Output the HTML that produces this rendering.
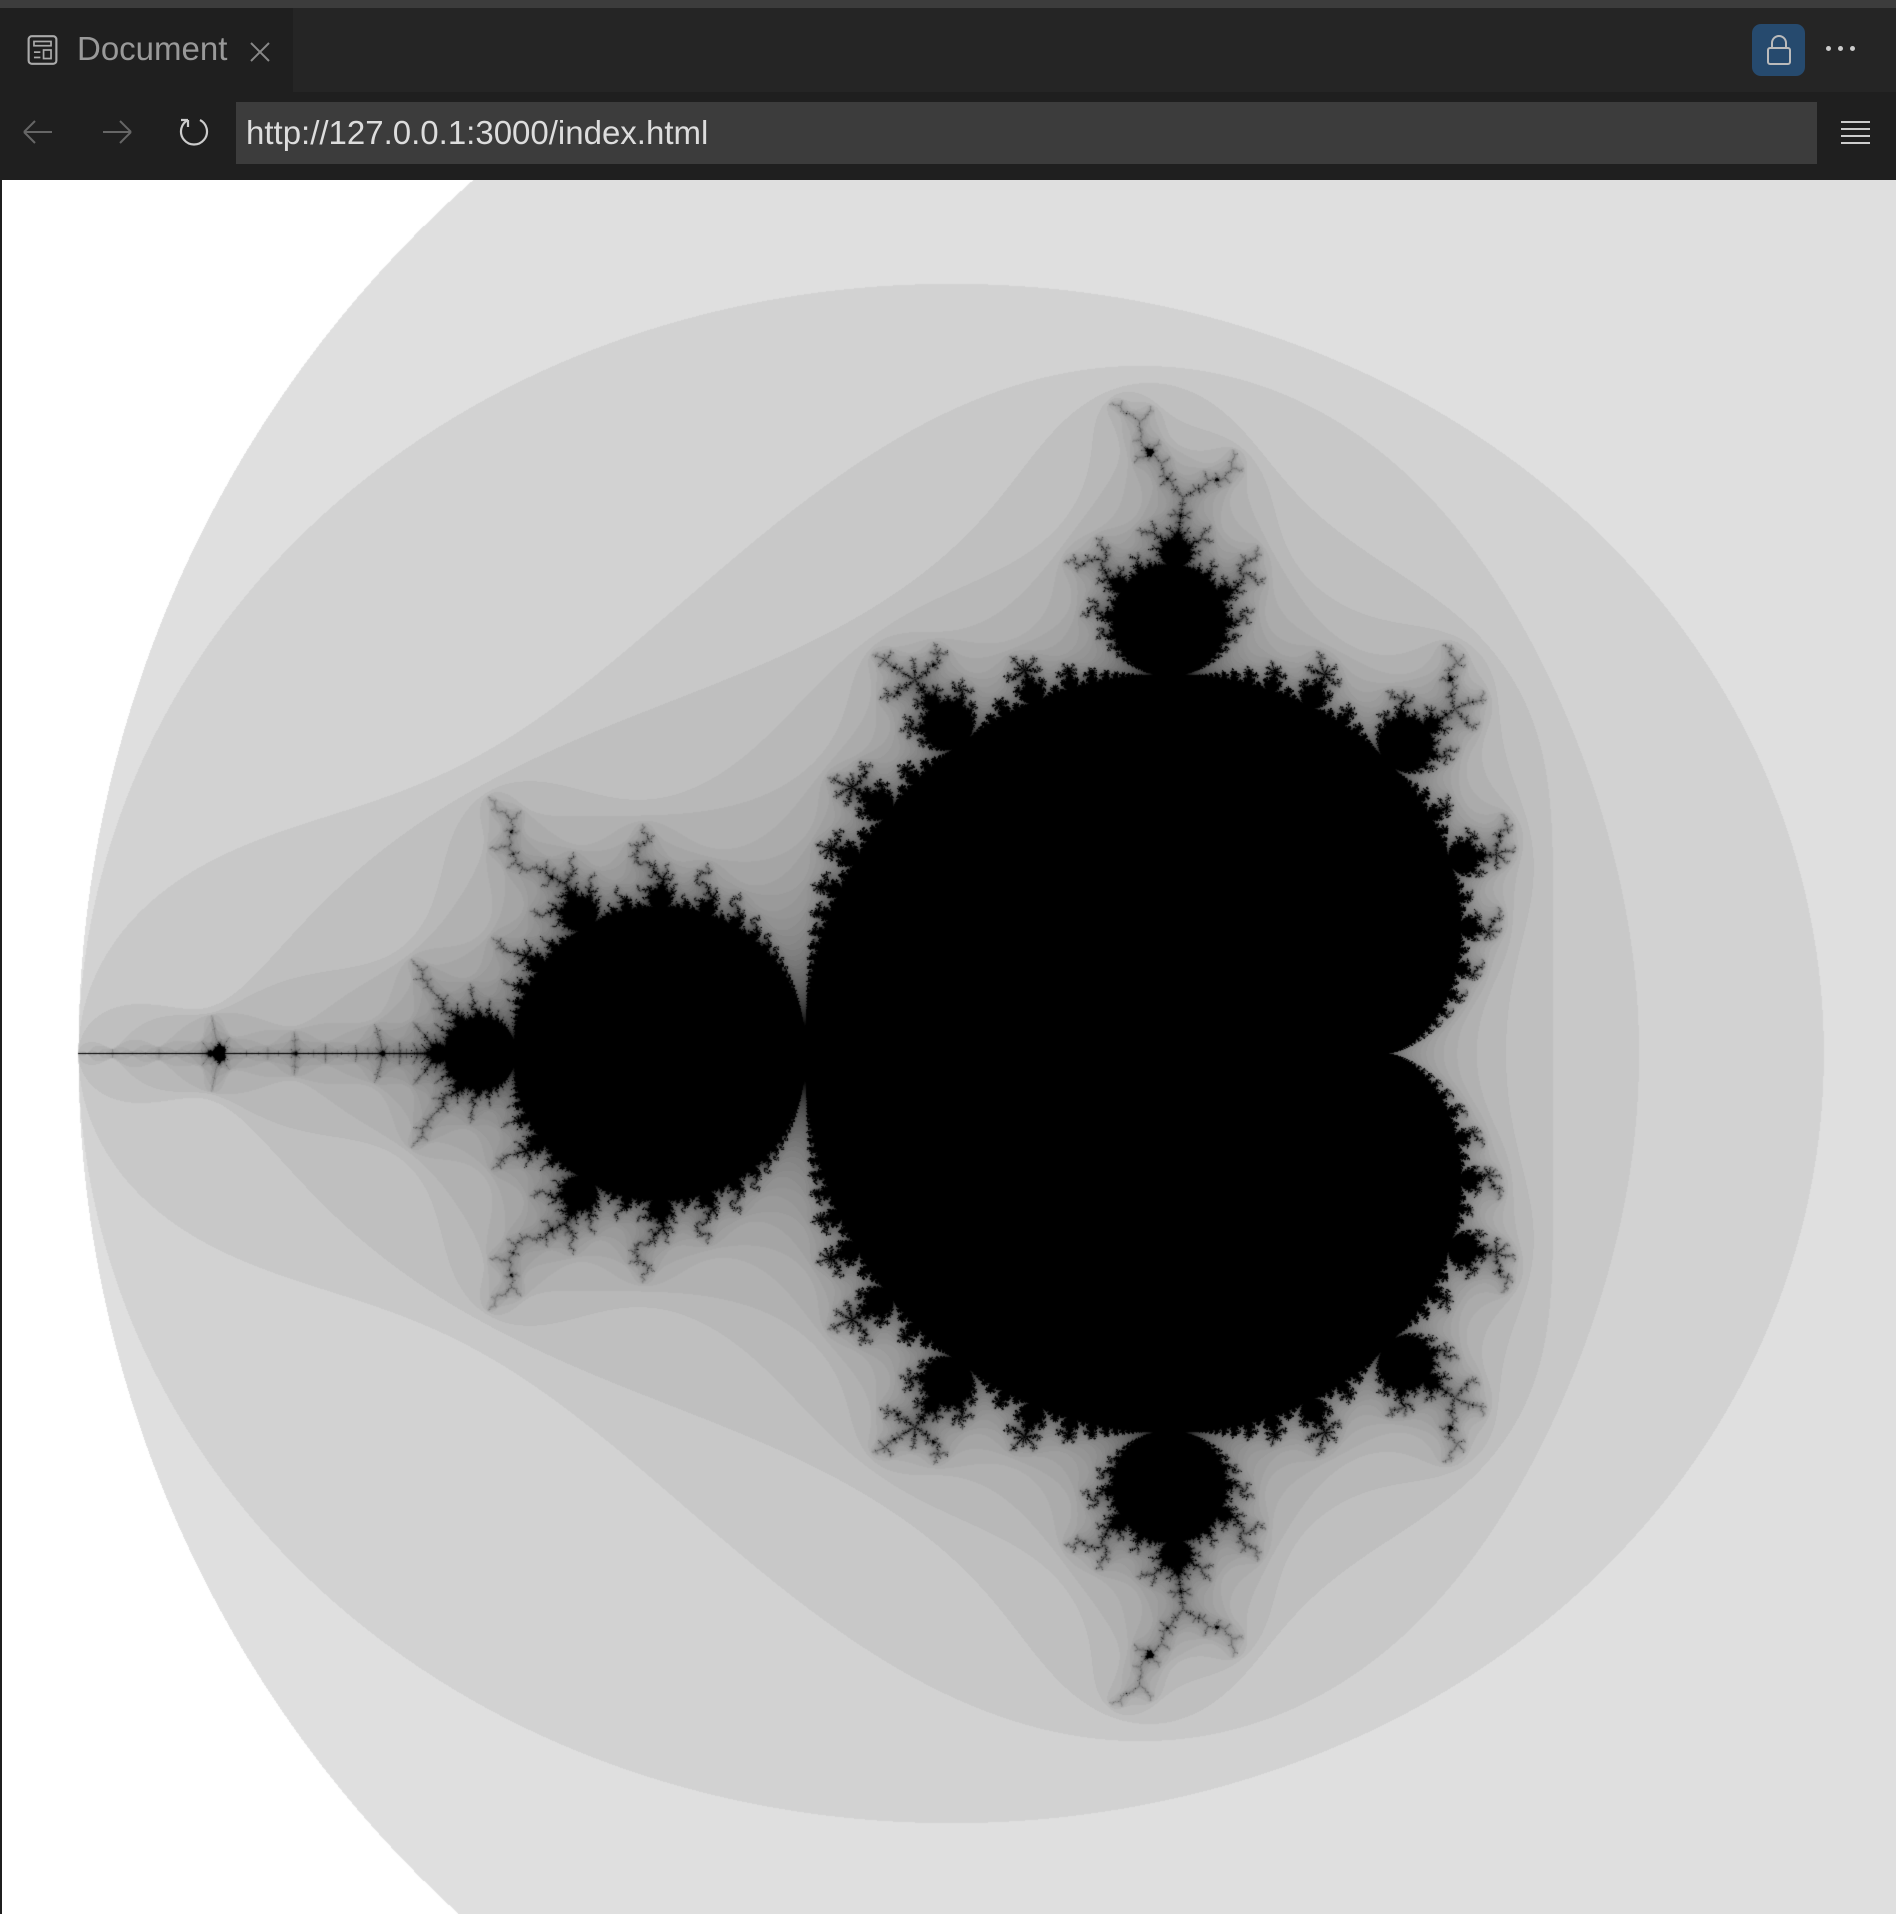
<!DOCTYPE html>
<html><head><meta charset="utf-8"><style>
*{margin:0;padding:0;box-sizing:border-box}
body{width:1896px;height:1914px;overflow:hidden;background:#1f1f1f;font-family:"Liberation Sans",sans-serif;position:relative}
.abs{position:absolute}
</style></head><body>
<div class="abs" style="left:0;top:0;width:1896px;height:8px;background:#3c3c3c"></div>
<div class="abs" style="left:0;top:8px;width:1896px;height:84px;background:#252525"></div>
<div class="abs" style="left:0;top:8px;width:293px;height:84px;background:#1f1f1f">
  <svg class="abs" style="left:26px;top:26px" width="33" height="32" viewBox="0 0 30 30"><rect x="2" y="2" width="26" height="26" rx="3" fill="none" stroke="#aaa" stroke-width="2"/><rect x="7" y="7" width="16" height="4" fill="none" stroke="#aaa" stroke-width="1.6"/><line x1="7" y1="17" x2="13" y2="17" stroke="#aaa" stroke-width="1.6"/><line x1="7" y1="22" x2="13" y2="22" stroke="#aaa" stroke-width="1.6"/><rect x="16" y="15" width="7" height="8" fill="none" stroke="#aaa" stroke-width="1.6"/></svg>
  <span class="abs" style="left:77px;top:22px;font-size:33px;color:#999">Document</span>
  <svg class="abs" style="left:249px;top:33px" width="22" height="22" viewBox="0 0 22 22"><path d="M2 2 L20 20 M20 2 L2 20" stroke="#888" stroke-width="2"/></svg>
</div>
<div class="abs" style="left:1752px;top:24px;width:53px;height:52px;background:#264a6e;border-radius:9px">
  <svg class="abs" style="left:12px;top:9px" width="30" height="34" viewBox="0 0 30 34"><path d="M8 15 V10 a7 7 0 0 1 14 0 V15" fill="none" stroke="#bbb" stroke-width="2"/><rect x="4" y="15" width="22" height="16" rx="2" fill="none" stroke="#bbb" stroke-width="2"/></svg>
</div>
<div class="abs" style="left:1825px;top:45px;width:34px;height:10px">
  <span class="abs" style="left:1px;top:1px;width:5px;height:5px;border-radius:50%;background:#ccc"></span>
  <span class="abs" style="left:13px;top:1px;width:5px;height:5px;border-radius:50%;background:#ccc"></span>
  <span class="abs" style="left:25px;top:1px;width:5px;height:5px;border-radius:50%;background:#ccc"></span>
</div>
<svg class="abs" style="left:20px;top:117px" width="36" height="30" viewBox="0 0 36 30"><path d="M4 15 H32 M4 15 L15 4 M4 15 L15 26" stroke="#666" stroke-width="2" fill="none"/></svg>
<svg class="abs" style="left:99px;top:117px" width="36" height="30" viewBox="0 0 36 30"><path d="M32 15 H4 M32 15 L21 4 M32 15 L21 26" stroke="#666" stroke-width="2" fill="none"/></svg>
<svg class="abs" style="left:177px;top:114px" width="34" height="36" viewBox="0 0 34 36"><path d="M11 6 A13 13 0 1 0 23 6" stroke="#ccc" stroke-width="2.2" fill="none"/><path d="M11 6 L11 13 M11 6 L4 6" stroke="#ccc" stroke-width="2.2" fill="none"/></svg>
<div class="abs" style="left:236px;top:102px;width:1581px;height:62px;background:#3c3c3c">
  <span class="abs" style="left:10px;top:12px;font-size:33px;color:#ddd">http://127.0.0.1:3000/index.html</span>
</div>
<div class="abs" style="left:1841px;top:121px;width:29px;height:24px">
  <span class="abs" style="left:0;top:0;width:29px;height:2px;background:#ccc"></span>
  <span class="abs" style="left:0;top:7px;width:29px;height:2px;background:#ccc"></span>
  <span class="abs" style="left:0;top:14px;width:29px;height:2px;background:#ccc"></span>
  <span class="abs" style="left:0;top:21px;width:29px;height:2px;background:#ccc"></span>
</div>
<canvas id="c" class="abs" width="1894" height="1734" style="left:2px;top:180px"></canvas>
<script>
const view = [1387, 1053, 581.8]; // cusp page x, axis page y, px per unit
const maxIter = [64];
const cv = document.getElementById('c');
const ctx = cv.getContext('2d');
const W = cv.width, H = cv.height;
const img = ctx.createImageData(W, H);
const d = img.data;
const M = maxIter[0];
for (let py = 0; py < H; py++) {
  const ci = -((py + 180) - view[1]) / view[2];
  for (let px = 0; px < W; px++) {
    const cr = ((px + 2) - view[0]) / view[2] + 0.25;
    let zr = 0, zi = 0, i = 0;
    for (; i < M; i++) {
      const t = zr * zr - zi * zi + cr;
      zi = 2 * zr * zi + ci;
      zr = t;
      if (zr * zr + zi * zi > 4) break;
    }
    const g = i >= M ? 0 : Math.round(255 * (1 - Math.sqrt(i / M)));
    const k = (py * W + px) * 4;
    d[k] = d[k + 1] = d[k + 2] = g; d[k + 3] = 255;
  }
}
ctx.putImageData(img, 0, 0);
</script>
</body></html>
